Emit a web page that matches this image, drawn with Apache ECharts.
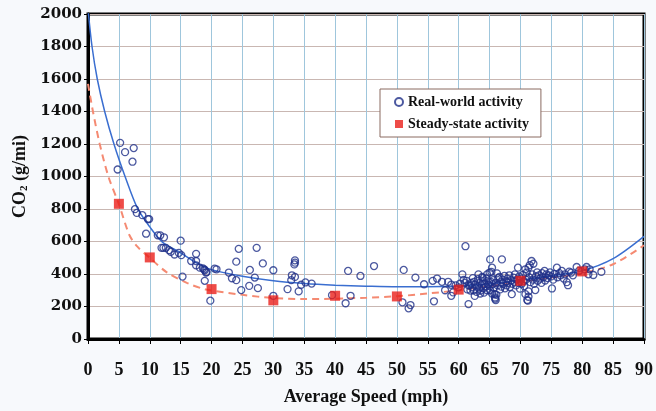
<!DOCTYPE html>
<html>
<head>
<meta charset="utf-8">
<script src="https://cdn.jsdelivr.net/npm/echarts@6/dist/echarts.min.js"></script>
<style>
html, body { margin: 0; padding: 0; background: #f7f9fc; }
#chart { width: 656px; height: 411px; }
</style>
</head>
<body>
<div id="chart"></div>
<script>
// steady-state activity (red squares)
var steadySpeed = [5, 10, 20, 30, 40, 50, 60, 70, 80];
var steadyCO2 = [832, 502, 307, 238, 266, 262, 304, 358, 416];

// fitted curve, real-world
var fitRealSpeed = [0, 0.65, 1.5, 2.7, 4.2, 6, 8, 10, 12, 15, 17.5, 20, 25, 30, 35, 40, 45, 50, 55, 60, 65, 70, 75, 80, 85, 90];
var fitRealCO2 = [2030, 1800, 1600, 1400, 1200, 1000, 805, 690, 598, 530, 470, 427, 386, 358, 341, 331, 325, 321, 321, 326, 340, 362, 388, 420, 495, 632];

// fitted curve, steady-state
var fitSteadySpeed = [0, 0.8, 1.9, 3.3, 5, 6.7, 8, 10, 12.7, 16, 19.1, 25, 30, 35, 40, 45, 50, 55, 60, 65, 70, 75, 80, 85, 90];
var fitSteadyCO2 = [1570, 1400, 1200, 1000, 830, 640, 568, 500, 412, 345, 305, 272, 252, 246, 248, 254, 263, 280, 300, 325, 352, 378, 404, 460, 577];

// real-world activity points [speed, CO2]
var realWorld = [
  [5.2,1207],[6.0,1150],[7.4,1175],[7.2,1091],[4.8,1043],
  [7.6,799],[7.9,776],[8.8,762],[9.7,738],[9.9,738],[9.4,648],
  [11.3,638],[11.7,638],[12.3,626],[15.0,605],
  [11.9,561],[12.2,561],[12.6,561],[13.1,547],[13.4,537],[14.0,520],[14.7,530],[15.1,516],
  [16.7,480],[17.5,480],[17.5,524],[17.5,453],[18.1,439],[18.6,435],[18.8,429],[18.9,423],[19.1,409],[18.9,358],[19.2,412],
  [20.5,433],[20.8,429],[15.3,384],[19.8,236],
  [22.8,409],[23.3,374],[24.0,362],[24.0,476],[24.4,555],[24.8,301],
  [26.1,327],[26.2,425],[27.0,378],[27.3,561],[27.5,313],[28.3,465],
  [30.0,266],[30.0,423],[32.3,307],[32.9,362],[33.0,392],[33.5,382],[33.4,459],[33.5,484],[33.5,470],
  [34.1,293],[34.5,334],[35.2,348],[36.2,341],[39.5,270],[42.1,419],[41.7,220],[42.5,266],[44.1,388],[46.3,449],
  [51.1,425],[50.9,226],[51.9,189],[52.2,209],[53.0,378],[54.4,337],[56.0,232],[55.8,358],[56.5,372],[57.3,352],
  [58.3,352],[58.8,334],[58.8,266],[59.1,287],[61.1,571],[60.6,398],[60.8,364],[61.3,358],[61.6,215],
  [57.8,300],[59.5,330],[60.2,340],[60.0,318],[61.0,345],[61.4,305],[61.6,330],
  [61.8,330],[62.0,345],[62.2,318],[62.4,300],[62.5,352],[62.7,335],[62.9,290],[63.0,322],[63.1,368],[63.3,310],
  [63.4,345],[63.6,298],[63.7,330],[63.9,356],[64.0,312],[64.1,285],[64.2,340],[64.4,322],[64.5,372],[64.6,300],
  [64.8,335],[64.9,350],[63.2,398],[63.9,378],[64.6,398],[63.8,382],[62.3,375],[61.9,298],[62.6,265],[63.5,280],
  [65.0,409],[65.1,490],[65.4,439],[65.3,413],[65.0,325],[65.1,300],[65.2,352],[65.4,280],[65.5,338],[65.6,362],
  [65.7,315],[65.8,276],[65.9,256],[66.0,240],[66.1,272],[65.9,248],[66.0,345],[66.2,404],[66.3,330],[66.4,375],
  [66.6,382],[66.7,305],[66.8,350],[66.9,322],[67.0,490],[67.1,365],[67.2,340],[67.4,388],[67.5,312],[67.7,355],
  [67.9,372],[67.8,330],
  [68.0,345],[68.2,392],[68.3,320],[68.5,362],[68.6,276],[68.7,340],[68.9,378],[69.0,352],[69.1,398],[69.3,330],
  [69.4,365],[69.6,439],[69.7,345],[69.8,385],[69.9,310],[70.1,372],[70.2,340],[70.4,395],[70.5,355],[70.6,325],
  [70.8,429],[70.8,276],[70.9,365],[71.0,409],[71.1,240],[71.2,236],[71.3,260],[71.3,439],[71.3,293],[71.4,380],
  [71.5,455],[71.6,350],[71.8,480],[71.9,398],[72.1,463],[72.0,365],[72.2,340],[72.4,301],[72.5,385],[72.7,410],
  [72.8,358],[73.0,392],[73.2,372],[73.4,345],[73.5,405],[73.7,380],[73.9,419],[74.0,360],[74.2,398],[74.4,375],
  [74.6,392],[74.8,410],[75.0,385],[75.1,311],[75.3,365],[75.5,400],[75.9,439],[76.0,380],[76.3,405],[76.5,392],
  [76.7,419],[77.0,372],[77.2,398],[77.5,350],[77.7,331],[77.9,415],[78.2,408],[78.5,392],[79.1,443],[79.5,420],
  [80.4,429],[80.7,443],[81.0,398],[81.2,429],[81.8,394],[83.1,413]
];

var myChart = echarts.init(document.getElementById('chart'));

var serif = 'Liberation Serif';

var steadyData = [];
for (var i = 0; i < steadySpeed.length; i++) {
  steadyData.push([steadySpeed[i], steadyCO2[i]]);
}
var fitReal = [];
for (var i = 0; i < fitRealSpeed.length; i++) {
  fitReal.push([fitRealSpeed[i], fitRealCO2[i]]);
}
var fitSteady = [];
for (var i = 0; i < fitSteadySpeed.length; i++) {
  fitSteady.push([fitSteadySpeed[i], fitSteadyCO2[i]]);
}

var option = {
  backgroundColor: '#f7f9fc',
  animation: false,
  grid: {
    left: 88, right: 9, top: 14, bottom: 69,
    show: true,
    backgroundColor: '#ffffff',
    borderColor: '#000',
    borderWidth: 3
  },
  legend: {
    orient: 'vertical',
    left: 380,
    top: 89,
    data: ['Real-world activity', 'Steady-state activity'],
    backgroundColor: '#ffffff',
    borderColor: '#8a6a60',
    borderWidth: 1,
    padding: [6, 12, 6, 14],
    itemGap: 8,
    itemWidth: 8,
    itemHeight: 8,
    textStyle: { fontFamily: serif, fontWeight: 'bold', fontSize: 14, color: '#111' }
  },
  xAxis: {
    type: 'value',
    min: 0, max: 90, interval: 5,
    name: 'Average Speed (mph)',
    nameLocation: 'middle',
    nameGap: 49,
    nameTextStyle: { fontFamily: serif, fontWeight: 'bold', fontSize: 18, color: '#111' },
    axisLine: { show: true, lineStyle: { color: '#000', width: 3 } },
    axisTick: { show: true, length: 5, lineStyle: { color: '#000', width: 1 } },
    axisLabel: { margin: 22, fontFamily: serif, fontWeight: 'bold', fontSize: 18, color: '#111' },
    splitLine: { show: true, lineStyle: { color: '#9fc6dc', width: 1 } }
  },
  yAxis: {
    type: 'value',
    min: 0, max: 2000, interval: 200,
    name: 'CO{sub|2} (g/mi)',
    nameLocation: 'middle',
    nameGap: 56,
    nameTextStyle: {
      fontFamily: serif, fontWeight: 'bold', fontSize: 18, color: '#111',
      rich: { sub: { fontFamily: serif, fontWeight: 'bold', fontSize: 11, color: '#111', verticalAlign: 'bottom', padding: [7, 0, 0, 0] } }
    },
    axisLine: { show: true, lineStyle: { color: '#000', width: 3 } },
    axisTick: { show: true, length: 4, lineStyle: { color: '#000', width: 1 } },
    axisLabel: {
      margin: 6, fontFamily: 'DejaVu Serif', fontWeight: 'bold', fontSize: 15, color: '#111',
      formatter: function (v) { return String(v); }
    },
    splitLine: { show: true, lineStyle: { color: '#c9b7b2', width: 1 } }
  },
  series: [
    {
      name: 'fit-steady',
      type: 'line',
      data: fitSteady,
      smooth: 0.3,
      showSymbol: false,
      silent: true,
      lineStyle: { color: '#f58a72', width: 2, type: [7, 5] },
      z: 2
    },
    {
      name: 'fit-real',
      type: 'line',
      data: fitReal,
      smooth: 0.3,
      showSymbol: false,
      silent: true,
      lineStyle: { color: '#3a6ed0', width: 1.5 },
      z: 2
    },
    {
      name: 'Real-world activity',
      type: 'scatter',
      data: realWorld,
      symbol: 'circle',
      symbolSize: 7,
      itemStyle: { color: 'rgba(255,255,255,0)', borderColor: '#1f3088', borderWidth: 1.3 },
      z: 3
    },
    {
      name: 'Steady-state activity',
      type: 'scatter',
      data: steadyData,
      symbol: 'rect',
      symbolSize: 10,
      itemStyle: { color: '#ea1f1a' },
      z: 4
    }
  ]
};

myChart.setOption(option);
</script>
</body>
</html>
